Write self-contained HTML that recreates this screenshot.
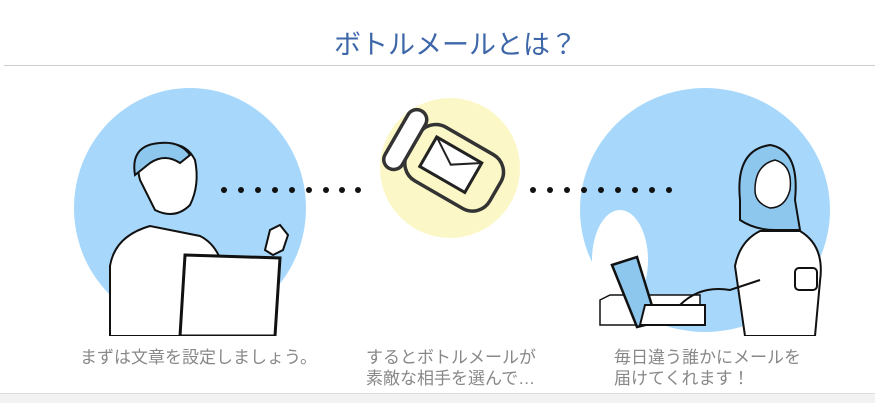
<!DOCTYPE html>
<html><head><meta charset="utf-8"><style>
body{margin:0;width:875px;height:402px;background:#fff;overflow:hidden;position:relative;font-family:"Liberation Sans","Noto Sans CJK JP",sans-serif}
.t{position:absolute;color:#888;font-size:17px;line-height:21px;white-space:nowrap}
</style></head><body>
<div style="position:absolute;left:0;width:875px;top:23px;text-align:center;font-size:27px;color:#3d67a9;padding-left:36px;box-sizing:border-box">ボトルメールとは？</div>
<div style="position:absolute;left:4px;right:0;top:65px;height:1px;background:#ccc"></div>
<svg width="875" height="402" style="position:absolute;left:0;top:0">
<defs><clipPath id="c"><rect x="0" y="0" width="875" height="336"/></clipPath></defs>
<g clip-path="url(#c)">
<ellipse cx="190" cy="208" rx="116" ry="120" fill="#a7d8fb"/>
<ellipse cx="705" cy="210" rx="125" ry="122" fill="#a7d8fb"/>
<ellipse cx="620" cy="260" rx="28" ry="50" fill="#fff"/>
<path d="M140 180 q-8-30 20-35 q25-5 35 15 q5 25-5 45 q-15 15-35 5z" fill="#fff" stroke="#111" stroke-width="2"/>
<path d="M135 175 q-5-30 25-32 q20-2 30 12 l-10 8 q-15-10-30 0z" fill="#8ec7ee" stroke="#111" stroke-width="2"/>
<path d="M110 336 l0-70 q5-30 40-40 l50 10 q20 10 25 40 l0 60z" fill="#fff" stroke="#111" stroke-width="2"/>
<path d="M185 255 l95 3 l-5 78 l-95 0z" fill="#fff" stroke="#111" stroke-width="3"/>
<path d="M265 250 l5-20 l10-5 l8 10 l-5 15 l-10 5z" fill="#fff" stroke="#111" stroke-width="2"/>
<path d="M740 200 q-5-50 30-55 q30 5 25 55 l5 30 l-25 0 q-20 0-35-10z" fill="#8ec7ee" stroke="#111" stroke-width="2"/>
<path d="M755 190 q0-25 20-30 q18 5 15 30 q-5 18-20 18 q-15-5-15-18z" fill="#fff" stroke="#111" stroke-width="1.5"/>
<path d="M745 336 l-10-70 q5-25 25-35 l40 0 q25 15 20 50 l-5 55z" fill="#fff" stroke="#111" stroke-width="2"/>
<path d="M600 300 l10-5 l90 0 l0 30 l-100 0z" fill="#fff" stroke="#111" stroke-width="1.5"/>
<path d="M612 265 l25-8 l20 65 l-20 5z" fill="#8ec7ee" stroke="#111" stroke-width="2.5"/>
<path d="M640 325 l65 0 l0-20 l-60 0z" fill="#fff" stroke="#111" stroke-width="2"/>
<path d="M680 305 q20-20 50-15 l30-10" fill="none" stroke="#111" stroke-width="2"/>
<rect x="795" y="268" width="22" height="22" rx="4" fill="#fff" stroke="#111" stroke-width="2"/>
</g>
<circle cx="450" cy="168" r="70" fill="#fbf7c6"/>
<g transform="rotate(30 450 170)">
<rect x="405" y="135" width="95" height="62" rx="20" fill="none" stroke="#333" stroke-width="3.5"/>
<rect x="386" y="133" width="20" height="66" rx="10" fill="#fff" stroke="#333" stroke-width="3.5"/>
<rect x="422" y="148" width="52" height="34" fill="#fff" stroke="#222" stroke-width="3"/>
<path d="M422 148 l26 17 l26-17" fill="none" stroke="#222" stroke-width="2"/>
</g>
<g fill="#111">
<circle cx="224" cy="190" r="3"/><circle cx="241" cy="190" r="3"/><circle cx="258" cy="190" r="3"/><circle cx="275" cy="190" r="3"/><circle cx="292" cy="190" r="3"/><circle cx="309" cy="190" r="3"/><circle cx="326" cy="190" r="3"/><circle cx="342" cy="190" r="3"/><circle cx="358" cy="190" r="3"/>
<circle cx="533" cy="190" r="3"/><circle cx="550" cy="190" r="3"/><circle cx="567" cy="190" r="3"/><circle cx="584" cy="190" r="3"/><circle cx="601" cy="190" r="3"/><circle cx="618" cy="190" r="3"/><circle cx="635" cy="190" r="3"/><circle cx="652" cy="190" r="3"/><circle cx="669" cy="190" r="3"/>
</g>
</svg>
<div class="t" style="left:80px;top:347px">まずは文章を設定しましょう。</div>
<div class="t" style="left:366px;top:347px">するとボトルメールが<br>素敵な相手を選んで…</div>
<div class="t" style="left:614px;top:347px">毎日違う誰かにメールを<br>届けてくれます！</div>
<div style="position:absolute;left:0;right:0;top:393px;height:9px;background:#f2f2f2;border-top:1px solid #ddd"></div>
</body></html>
